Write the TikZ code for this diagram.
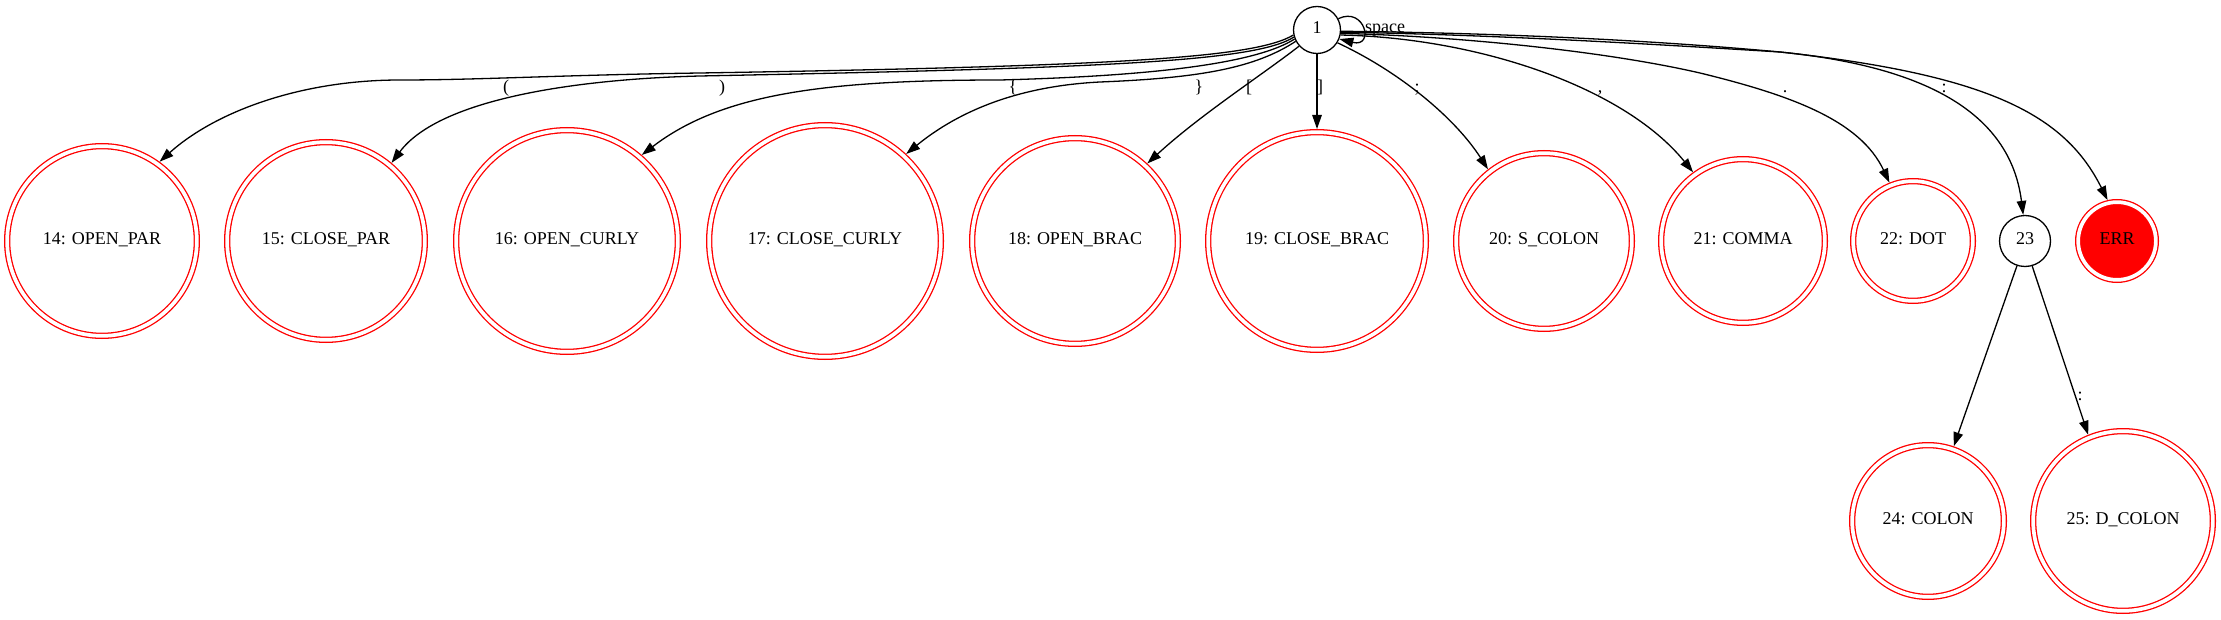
\documentclass[tikz,border=0pt]{standalone}
\usepackage{fontspec}
\setmainfont{Liberation Serif}
\usetikzlibrary{arrows.meta}
\begin{document}
\begin{tikzpicture}[x=1pt,y=-1pt,
  every node/.style={font=\fontsize{18}{21}\selectfont},
  st/.style={circle, draw=black, line width=1.3pt, inner sep=0pt, text height=0.8em, text depth=0.138em},
  acc/.style={circle, draw=red, double=white, double distance=3.7pt, line width=1.3pt, inner sep=0pt, outer sep=3.15pt, text height=0.8em, text depth=0.138em},
  arr/.style={line width=1.3pt, -{Triangle[length=14pt,width=9.5pt]}},
  lbl/.style={anchor=base, inner sep=0pt}]
\useasboundingbox (0,0) rectangle (2221,620);
% states
\node[st, minimum size=47pt] (n1) at (1317,30) {1};
\node[acc, minimum size=189.7pt] (n14) at (102,241) {14: OPEN\_PAR};
\node[acc, minimum size=197.7pt] (n15) at (326,241) {15: CLOSE\_PAR};
\node[acc, minimum size=221.7pt] (n16) at (567,241) {16: OPEN\_CURLY};
\node[acc, minimum size=231.7pt] (n17) at (825,241) {17: CLOSE\_CURLY};
\node[acc, minimum size=205.7pt] (n18) at (1075,241) {18: OPEN\_BRAC};
\node[acc, minimum size=217.7pt] (n19) at (1317,241) {19: CLOSE\_BRAC};
\node[acc, minimum size=175.7pt] (n20) at (1544,241) {20: S\_COLON};
\node[acc, minimum size=163.7pt] (n21) at (1743,241) {21: COMMA};
\node[acc, minimum size=119.7pt] (n22) at (1913,241) {22: DOT};
\node[st, minimum size=51pt] (n23) at (2025,241) {23};
\node[acc, fill=red, minimum size=77.7pt] (nerr) at (2117,241) {ERR};
\node[acc, minimum size=151.7pt] (n24) at (1928,521) {24: COLON};
\node[acc, minimum size=179.7pt] (n25) at (2123,521) {25: D\_COLON};
% self loop
\draw[arr] (n1.28) .. controls (1365,6) and (1375,48) .. (n1.-22);
% edges to the left
\draw[arr] (n1.192) .. controls (1255,58) and (1120,66) .. (700,73)
  .. controls (560,75) and (480,80) .. (400,80)
  .. controls (300,80) and (215,112) .. (n14.54);
\draw[arr] (n1.197) .. controls (1255,62) and (1100,68) .. (700,76)
  .. controls (580,79) and (440,98) .. (n15.50);
\draw[arr] (n1.202) .. controls (1255,64) and (1150,76) .. (1000,80)
  .. controls (820,80) and (720,95) .. (n16.49);
\draw[arr] (n1.208) .. controls (1255,68) and (1200,78) .. (1100,82)
  .. controls (1020,86) and (960,110) .. (n17.47);
\draw[arr] (n1.222) .. controls (1262,75) and (1200,115) .. (n18.47);
\draw[arr] (n1.south) -- (n19.north);
% edges to the right
\draw[arr] (n1.-32) .. controls (1400,72) and (1455,118) .. (n20.128);
\draw[arr] (n1.-12) .. controls (1480,38) and (1625,88) .. (n21.126);
\draw[arr] (n1.-8) .. controls (1450,36) and (1600,50) .. (1700,73)
  .. controls (1790,95) and (1860,120) .. (n22.112);
\draw[arr] (n1.-3) .. controls (1500,33) and (1650,40) .. (1780,52)
  .. controls (1920,66) and (2010,110) .. (n23.94);
\draw[arr] (n1.-5) .. controls (1500,35) and (1650,44) .. (1780,52)
  .. controls (1990,75) and (2065,115) .. (nerr.103);
\draw[arr] (n23.252) -- (n24.71);
\draw[arr] (n23.-74) -- (n25.112);
% labels
\node[lbl] (lsp) at (1385,33) {space};
\node[lbl] (la) at (506,93) {(};
\node[lbl] (lb) at (722,93) {)};
\node[lbl] (lc) at (1013,93) {\{};
\node[lbl] (ld) at (1199,93) {\}};
\node[lbl] (le) at (1249,93) {[};
\node[lbl] (lf) at (1320,93) {]};
\node[lbl] (lg) at (1417,93) {;};
\node[lbl] (lh) at (1600,93) {,};
\node[lbl] (li) at (1785,93) {.};
\node[lbl] (lj) at (1944,93) {:};
\node[lbl] (lk) at (2080,400) {:};
\end{tikzpicture}
\end{document}
